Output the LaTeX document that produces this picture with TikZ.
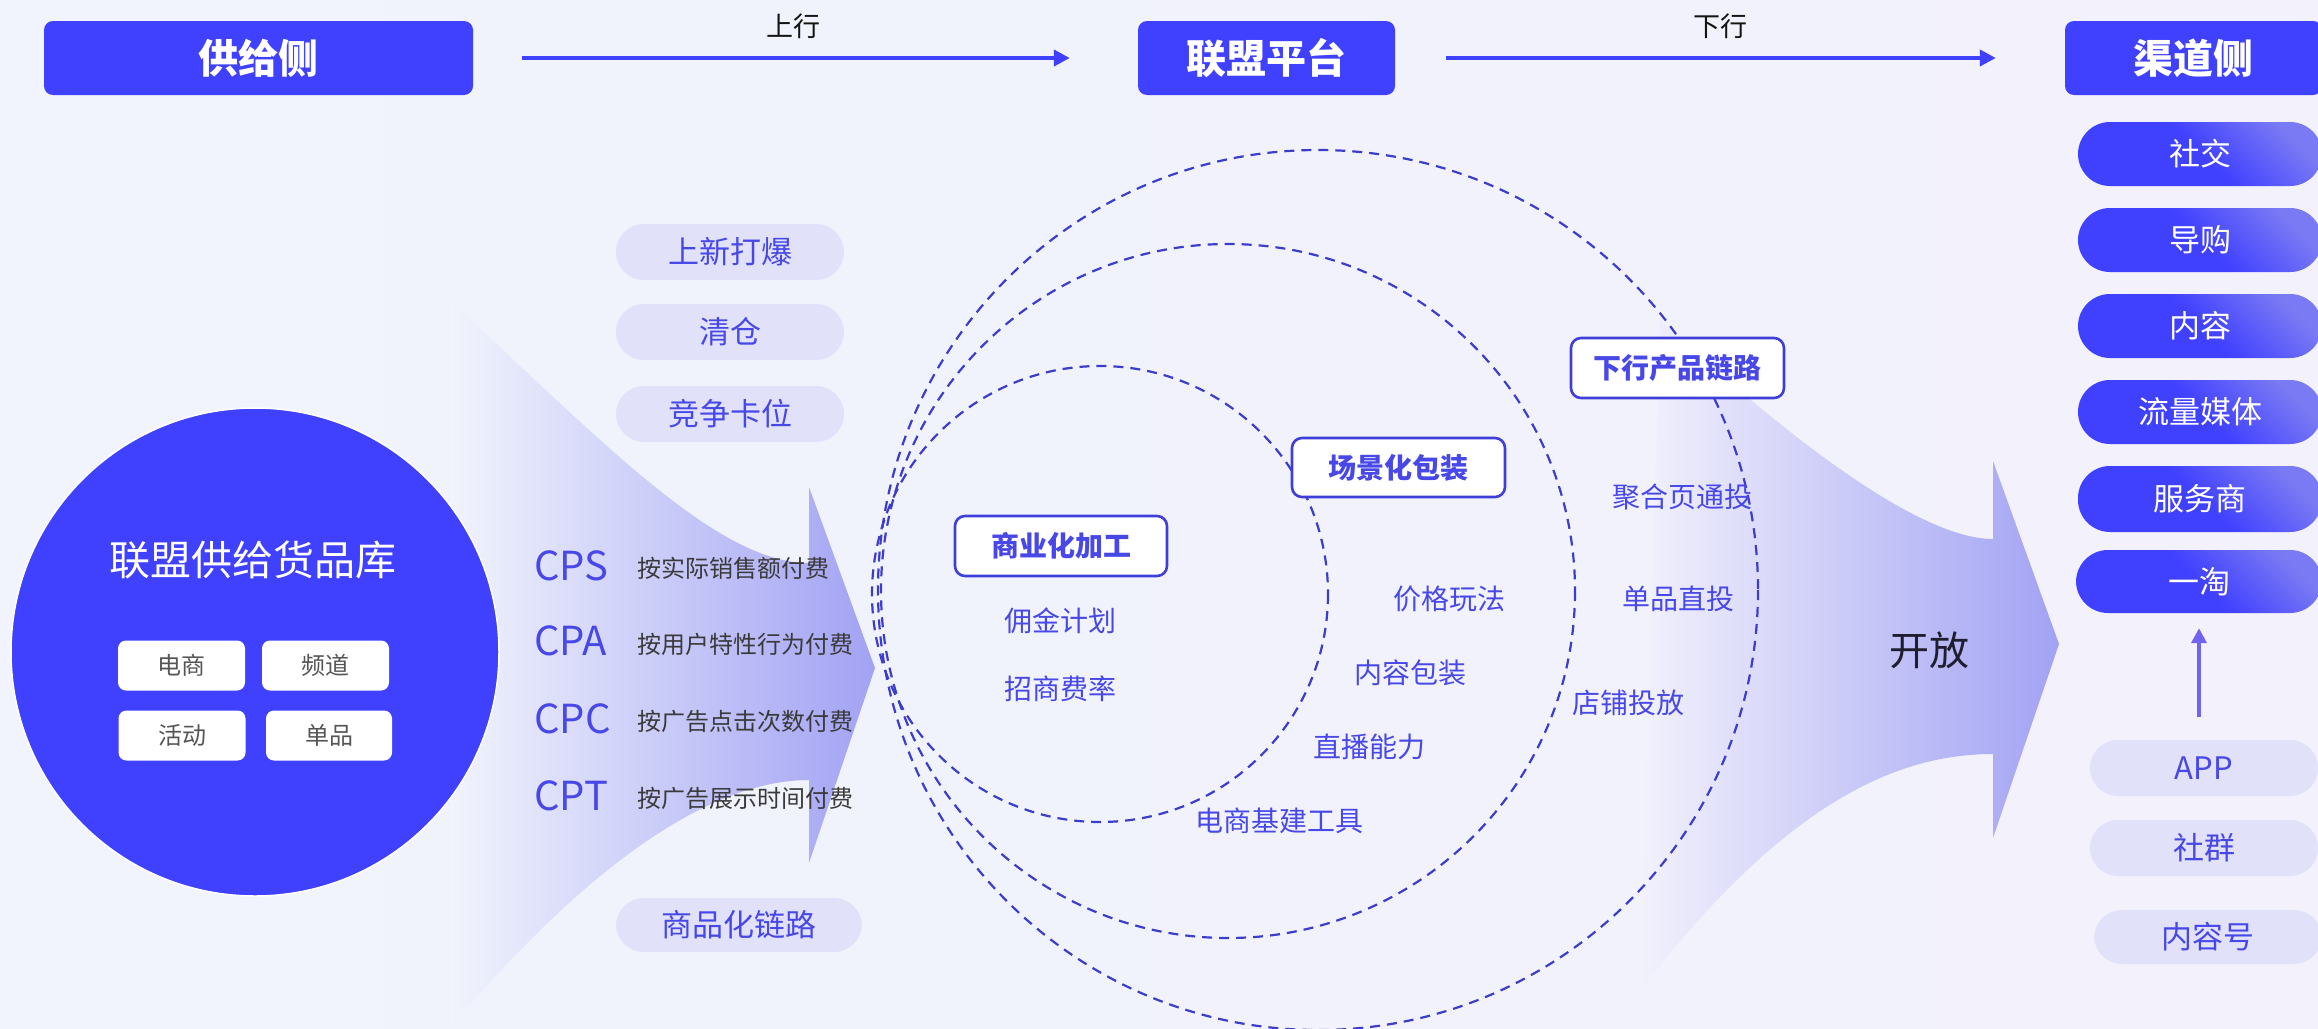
\documentclass[tikz,border=0pt]{standalone}
\usepackage{fontspec}
\setmainfont{Noto Sans CJK SC}
\usetikzlibrary{arrows.meta}
\definecolor{mainblue}{HTML}{4040FF}
\definecolor{lightblue}{HTML}{7A7AF4}
\definecolor{txtblue}{HTML}{4848E8}
\definecolor{pillbg}{HTML}{E1E1FA}
\definecolor{dashblue}{HTML}{3C3CCD}
\definecolor{boxborder}{HTML}{3E3ED8}
\definecolor{bgA}{HTML}{F1F4FC}
\definecolor{bgB}{HTML}{F2F1FC}
\definecolor{arrowend}{HTML}{A2A2F4}
\definecolor{arrowmid}{HTML}{D6D6F8}
\definecolor{desc}{HTML}{3A3A3A}
\definecolor{tagtext}{HTML}{555555}
\definecolor{upcol}{HTML}{7262F2}
\definecolor{darktext}{HTML}{1E1E2E}
\begin{document}
\begin{tikzpicture}[x=1pt,y=-1pt,
  header/.style={rectangle, fill=mainblue, rounded corners=9pt, text=white, font=\fontsize{40}{44}\selectfont\bfseries, minimum height=74pt, inner sep=0pt},
  flowarrow/.style={draw=mainblue, line width=4pt, -{Triangle[length=16pt,width=16pt]}},
  lbl/.style={text=black!92, font=\fontsize{27}{30}\selectfont, inner sep=0pt},
  leftpill/.style={rectangle, fill=pillbg, rounded corners=28pt, minimum width=228pt, minimum height=56pt, text=txtblue, font=\fontsize{31}{34}\selectfont, inner sep=0pt},
  tagbox/.style={rectangle, fill=white, rounded corners=8pt, minimum width=127pt, minimum height=50pt, text=tagtext, font=\fontsize{24}{26}\selectfont, inner sep=0pt},
  cpx/.style={anchor=west, text=txtblue, font=\fontsize{40}{44}\selectfont, inner sep=0pt},
  cpdesc/.style={anchor=west, text=desc, font=\fontsize{24}{26}\selectfont, inner sep=0pt},
  ring/.style={draw=dashblue, line width=2.2pt, dash pattern=on 10pt off 7pt},
  layerbox/.style={rectangle, draw=boxborder, line width=2.6pt, fill=white, rounded corners=10pt, minimum width=213pt, minimum height=60pt, text=txtblue, font=\fontsize{28}{30}\selectfont\bfseries, inner sep=0pt},
  item/.style={text=txtblue, font=\fontsize{28}{30}\selectfont, inner sep=0pt},
  chpill/.style={rectangle, rounded corners=32pt, minimum width=244pt, minimum height=64pt, top color=mainblue, bottom color=lightblue, middle color=mainblue, shading angle=135, text=white, font=\fontsize{31}{34}\selectfont, inner sep=0pt},
  uparrow/.style={draw=upcol, line width=4pt, -{Triangle[length=15pt,width=15pt]}}
]
\useasboundingbox (0,0) rectangle (2318,1028);
% background
\shade[left color=bgA, right color=bgB] (0,0) rectangle (2318,1028);

% left flow arrow
\shade[left color=bgA, middle color=arrowmid, right color=arrowend]
  (450,300) .. controls (610,450) and (720,563) .. (809,563)
  -- (809,487) -- (875,668) -- (809,863) -- (809,780)
  .. controls (720,780) and (600,850) .. (450,1028) -- cycle;

% right flow arrow
\shade[left color=bgB, middle color=arrowmid, right color=arrowend]
  (1660,320) .. controls (1790,440) and (1920,539) .. (1993,539)
  -- (1993,461) -- (2059,644) -- (1993,838) -- (1993,754)
  .. controls (1890,754) and (1780,810) .. (1640,990) -- cycle;

% dashed rings
\draw[ring] (1318,590) circle[radius=440];
\draw[ring] (1228,591) circle[radius=347];
\draw[ring] (1100,594) circle[radius=228];

% headers
\node[header, minimum width=429pt] (gys) at (258.5,58) {供给侧};
\node[header, minimum width=257pt] (lmpt) at (1266.5,58) {联盟平台};
\node[header, minimum width=257pt] (qds) at (2193.5,58) {渠道侧};
\draw[flowarrow, shorten <=49pt, shorten >=68pt] (gys.east) -- (lmpt.west);
\draw[flowarrow, shorten <=51pt, shorten >=69pt] (lmpt.east) -- (qds.west);
\node[lbl] (up) at (793,26) {上行};
\node[lbl] (down) at (1720,26) {下行};

% supply pills
\node[leftpill] (p1) at (730,252) {上新打爆};
\node[leftpill] (p2) at (730,332) {清仓};
\node[leftpill] (p3) at (730,414) {竞争卡位};
\node[leftpill, minimum width=246pt, minimum height=54pt] (p4) at (739,925) {商品化链路};

% big circle
\node[circle, fill=mainblue, draw=white, line width=1.5pt, minimum size=488pt, inner sep=0pt] (pool) at (255,652) {};
\node[text=white, font=\fontsize{41}{44}\selectfont, inner sep=0pt] (pooltitle) at (253,560) {联盟供给货品库};
\node[tagbox] (t1) at (181.5,665.5) {电商};
\node[tagbox] (t2) at (325.5,665.5) {频道};
\node[tagbox] (t3) at (182,735.5) {活动};
\node[tagbox, minimum width=126pt] (t4) at (329,735.5) {单品};

% pricing models
\node[cpx] (cps) at (534,565.5) {CPS};
\node[cpx] (cpa) at (534,641) {CPA};
\node[cpx] (cpc) at (534,719) {CPC};
\node[cpx] (cpt) at (534,796) {CPT};
\node[cpdesc] (d1) at (637,568) {按实际销售额付费};
\node[cpdesc] (d2) at (637,644) {按用户特性行为付费};
\node[cpdesc] (d3) at (637,721) {按广告点击次数付费};
\node[cpdesc] (d4) at (637,798) {按广告展示时间付费};

% layer boxes
\node[layerbox] (b1) at (1677.5,368) {下行产品链路};
\node[layerbox, minimum height=59pt] (b2) at (1398.5,467.5) {场景化包装};
\node[layerbox, minimum width=212pt] (b3) at (1061,546) {商业化加工};

% ring items
\node[item] (i1) at (1060,621) {佣金计划};
\node[item] (i2) at (1060,689) {招商费率};
\node[item] (i3) at (1449,599) {价格玩法};
\node[item] (i4) at (1410,673) {内容包装};
\node[item] (i5) at (1369,747) {直播能力};
\node[item] (i6) at (1279,821) {电商基建工具};
\node[item] (i7) at (1682,497) {聚合页通投};
\node[item] (i8) at (1678,599) {单品直投};
\node[item] (i9) at (1628,703) {店铺投放};

\node[text=darktext, font=\fontsize{40}{44}\selectfont, inner sep=0pt] (open) at (1929,650) {开放};

% channel pills
\node[chpill] (c1) at (2200,154) {社交};
\node[chpill] (c2) at (2200,240) {导购};
\node[chpill] (c3) at (2200,326) {内容};
\node[chpill] (c4) at (2200,412) {流量媒体};
\node[chpill, minimum height=66pt] (c5) at (2200,499) {服务商};
\node[chpill, minimum width=246pt, minimum height=63pt] (yitao) at (2199,581.5) {一淘};

\node[leftpill] (app) at (2204,768) {APP};
\node[leftpill] (sq) at (2204,848) {社群};
\node[leftpill, minimum height=54pt] (nrh) at (2208,937) {内容号};
\draw[uparrow, shorten <=23pt, shorten >=15pt] (yitao.south |- app.north) -- (yitao.south);
\end{tikzpicture}
\end{document}
